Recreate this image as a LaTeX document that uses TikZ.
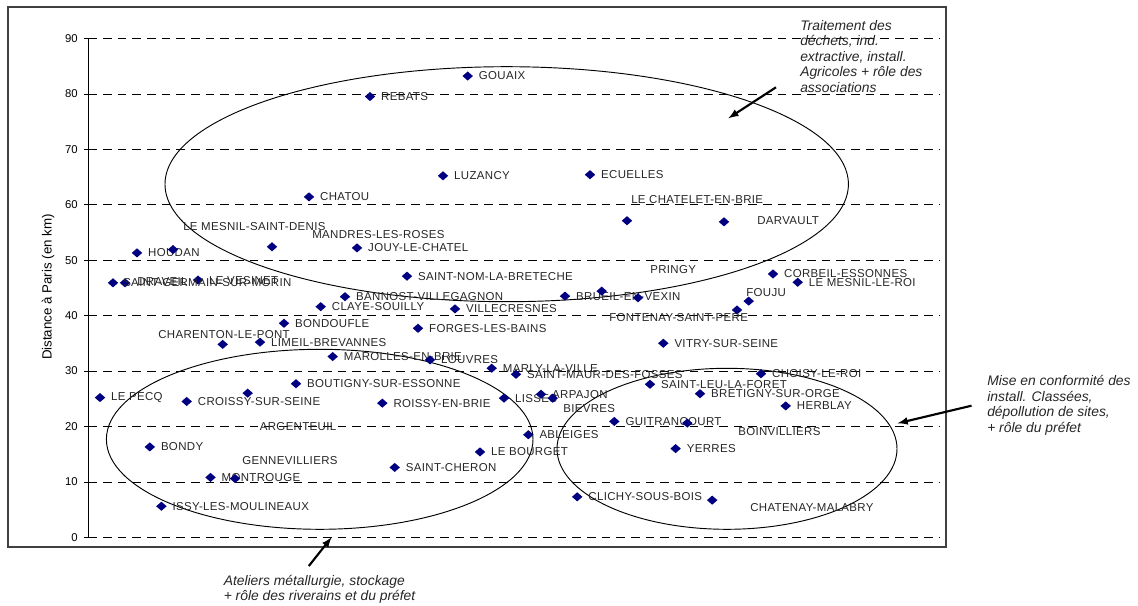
\documentclass[tikz,border=0pt]{standalone}
\usepackage{fontspec}
\setmainfont{Liberation Sans}
\newfontfamily\sitefont[LetterSpace=3]{Liberation Sans}
\usetikzlibrary{arrows}
\usetikzlibrary{positioning}
\usetikzlibrary{shapes.geometric}
\tikzset{>=latex}
\definecolor{sitecol}{RGB}{0,0,128}

\begin{document}
\begin{tikzpicture}[x=0.75pt,y=-0.75pt,
  site/.style={diamond,aspect=1.15,fill=sitecol,inner sep=0pt,minimum width=8pt,minimum height=7pt},
  lbl/.style={font=\sitefont\fontsize{8.6}{10}\selectfont,inner sep=0pt,text=black!85},
  note/.style={font=\itshape\fontsize{10.4}{11.7}\selectfont,align=left,inner sep=0pt,anchor=west,text=black!85},
  gridline/.style={dash pattern=on 6.5pt off 4.5pt},
  ring/.style={draw,line width=0.7pt},
  callout/.style={->,line width=1.6pt}]

\useasboundingbox (0,0) rectangle (1138,606);
\draw[line width=1.2pt,black!75] (8,7) rectangle (946,547);

\node[rotate=90,font=\fontsize{10}{12}\selectfont] (ytitle) at (48,287) {Distance à Paris (en km)};

% axis, grid and ticks in km
\begin{scope}[shift={(0,537.3)},y=4.158pt]
\foreach \v in {0,10,...,90} {
  \draw[gridline] (88.3,\v) -- (940,\v);
  \draw (84,\v) -- (88.3,\v);
  \node[anchor=east,inner sep=0pt,font=\fontsize{8.5}{10}\selectfont] (tick\v) at (78,\v) {\v};
}
\draw (88.3,0) -- (88.3,90);
\end{scope}

\draw[ring] (506.7,184.2) ellipse [x radius=341.7,y radius=117.5];
\draw[ring] (319.7,439.3) ellipse [x radius=213.3,y radius=90];
\draw[ring] (727,448.8) ellipse [x radius=170,y radius=80.5];

% sites with their label on the right
\begin{scope}[shift={(0,537.3)},y=4.158pt]
\foreach \px/\km/\name [count=\i] in {467.7/83.2/GOUAIX, 370/79.5/REBATS, 443/65.2/LUZANCY,
    590/65.4/ECUELLES, 309/61.4/CHATOU, 357/52.2/JOUY-LE-CHATEL, 137/51.3/HOUDAN,
    198/46.4/LE VESINET, 407/47.1/SAINT-NOM-LA-BRETECHE, 345/43.4/BANNOST-VILLEGAGNON,
    320.7/41.6/CLAYE-SOUILLY, 455/41.2/VILLECRESNES, 565/43.5/BRUEIL-EN-VEXIN,
    773/47.5/CORBEIL-ESSONNES, 797.7/46.0/LE MESNIL-LE-ROI, 663.3/35.0/VITRY-SUR-SEINE,
    418/37.7/FORGES-LES-BAINS, 284/38.6/BONDOUFLE, 260/35.2/LIMEIL-BREVANNES,
    332.7/32.6/MAROLLES-EN-BRIE, 430/32.0/LOUVRES, 491.7/30.5/MARLY-LA-VILLE,
    516/29.4/SAINT-MAUR-DES-FOSSES, 296/27.7/BOUTIGNY-SUR-ESSONNE, 382.3/24.2/ROISSY-EN-BRIE,
    504/25.1/LISSES, 541/25.8/ARPAJON, 650/27.6/SAINT-LEU-LA-FORET, 614.3/20.9/GUITRANCOURT,
    528.3/18.5/ABLEIGES, 761/29.5/CHOISY-LE-ROI, 700/25.9/BRETIGNY-SUR-ORGE, 785.7/23.7/HERBLAY,
    675.6/16.0/YERRES, 577.2/7.3/CLICHY-SOUS-BOIS, 480/15.4/LE BOURGET, 100/25.2/LE PECQ,
    186.7/24.5/CROISSY-SUR-SEINE, 149.8/16.3/BONDY, 394.7/12.6/SAINT-CHERON,
    161.4/5.6/ISSY-LES-MOULINEAUX, 210.5/10.8/MONTROUGE} {
  \node[site] (s\i) at (\px,\km) {};
  \node[lbl,right=4pt of s\i] (l\i) {\name};
}
\foreach \px/\km [count=\i] in {627/57.1, 724/56.9, 272/52.4, 173/51.9, 113/45.9, 125/45.9,
    601.7/44.4, 638/43.2, 748.7/42.6, 737/41.0, 222.7/34.8, 552.7/25.1, 687.3/20.6,
    712.2/6.7, 247.7/26.0, 235/10.6}
  \node[site] (u\i) at (\px,\km) {};
\end{scope}

% labels moved away from their sites
\node[lbl,anchor=west] (chatelet) at (631,200) {LE CHATELET-EN-BRIE};
\node[lbl,anchor=west] (darvault) at (757,221) {DARVAULT};
\node[lbl,anchor=west] (mesnil) at (183,227) {LE MESNIL-SAINT-DENIS};
\node[lbl,anchor=west] (mandres) at (312,235) {MANDRES-LES-ROSES};
\node[lbl,anchor=west] (draveil) at (137,282) {DRAVEIL};
\node[lbl,anchor=west] (stgermain) at (123,283) {SAINT-GERMAIN-SUR-MORIN};
\node[lbl,anchor=west] (pringy) at (650,270) {PRINGY};
\node[lbl,anchor=west] (fouju) at (746,292.7) {FOUJU};
\node[lbl,anchor=west] (fontenay) at (609,317.3) {FONTENAY-SAINT-PERE};
\node[lbl,anchor=west] (charenton) at (158,335) {CHARENTON-LE-PONT};
\node[lbl,anchor=west] (bievres) at (563,409) {BIEVRES};
\node[lbl,anchor=west] (boinvilliers) at (738,432) {BOINVILLIERS};
\node[lbl,anchor=west] (chatenay) at (750,508) {CHATENAY-MALABRY};
\node[lbl,anchor=west] (argenteuil) at (259.6,426.7) {ARGENTEUIL};
\node[lbl,anchor=west] (gennevilliers) at (242,461) {GENNEVILLIERS};

% comments on the three groups
\node[note] (noteTop) at (800,56.3) {Traitement des\\déchets, ind.\\extractive, install.\\Agricoles + rôle des\\associations};
\node[note] (noteRight) at (987,405.2) {Mise en conformité des\\install. Classées,\\dépollution de sites,\\+ rôle du préfet};
\node[note] (noteBottom) at (223.5,589.5) {Ateliers métallurgie, stockage\\+ rôle des riverains et du préfet};

\coordinate (tailTop) at (776,87.3);
\coordinate (tipTop) at (728.3,118.3);
\coordinate (tailRight) at (971.5,405.7);
\coordinate (tipRight) at (897.6,423.3);
\coordinate (tailBottom) at (308.8,566);
\coordinate (tipBottom) at (331.6,537.3);
\draw[callout] (tailTop) -- (tipTop);
\draw[callout] (tailRight) -- (tipRight);
\draw[callout] (tailBottom) -- (tipBottom);

\end{tikzpicture}
\end{document}
